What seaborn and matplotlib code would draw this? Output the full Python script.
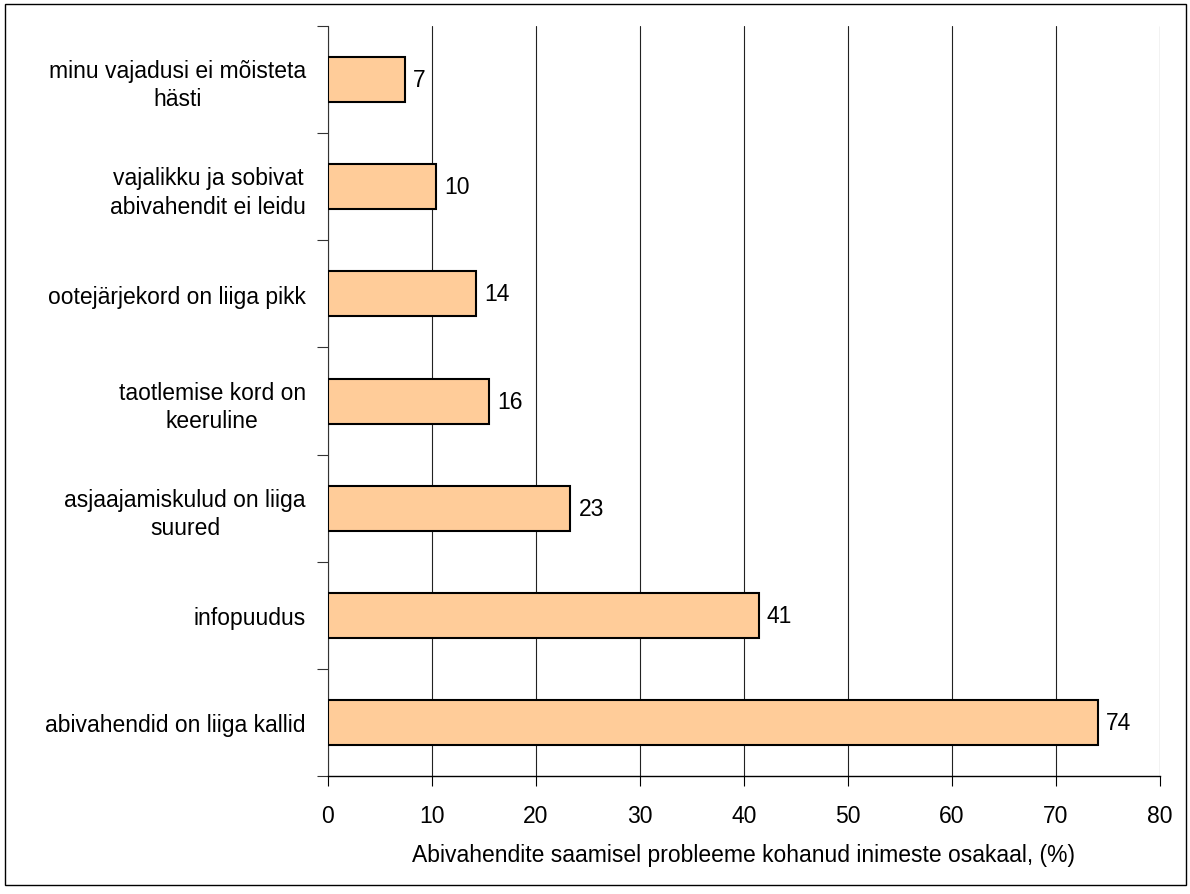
import matplotlib
matplotlib.use('Agg')
import matplotlib.pyplot as plt
import seaborn as sns
import pandas as pd
from matplotlib.patches import Rectangle

# Data
categories = [
    'minu vajadusi ei mõisteta\nhästi',
    'vajalikku ja sobivat\nabivahendit ei leidu',
    'ootejärjekord on liiga pikk',
    'taotlemise kord on\nkeeruline',
    'asjaajamiskulud on liiga\nsuured',
    'infopuudus',
    'abivahendid on liiga kallid',
]
values = [7.4, 10.4, 14.2, 15.5, 23.3, 41.4, 74.0]
labels = ['7', '10', '14', '16', '23', '41', '74']
x_ticks = [0, 10, 20, 30, 40, 50, 60, 70, 80]

df = pd.DataFrame({'Problem': categories, 'Share': values})

sns.set_style('white')
plt.rcParams['font.family'] = ['Liberation Sans', 'DejaVu Sans']
plt.rcParams['font.size'] = 16.5
plt.rcParams['text.color'] = 'black'
plt.rcParams['xtick.color'] = 'black'
plt.rcParams['ytick.color'] = 'black'
plt.rcParams['axes.labelcolor'] = 'black'

fig = plt.figure(figsize=(11.9, 8.95), dpi=100)
ax = fig.add_axes([328 / 1190, 1 - 777 / 895, 832 / 1190, 750 / 895])

sns.barplot(data=df, y='Problem', x='Share', orient='h', ax=ax,
            color='#FFCC99', edgecolor='black', linewidth=1.5,
            width=0.42, saturation=1, zorder=3)

ax.bar_label(ax.containers[0], labels=labels, padding=6, fontsize=16.5, color='black')

ax.set_xlim(0, 80)
ax.set_ylim(6.5, -0.5)
ax.set_xticks(x_ticks)
ax.set_xlabel('Abivahendite saamisel probleeme kohanud inimeste osakaal, (%)',
              fontsize=16.5, labelpad=12)
ax.set_ylabel('')

# vertical grid only
ax.grid(axis='x', color='#222222', linewidth=0.8, zorder=0)
ax.grid(axis='y', visible=False)

# y ticks at category boundaries
ax.set_yticks(range(len(categories)))
ax.set_yticklabels(categories)
ax.set_yticks([i - 0.5 for i in range(len(categories) + 1)], minor=True)
ax.tick_params(axis='y', which='major', left=False, length=0, pad=16)
ax.tick_params(axis='y', which='minor', left=True, length=8, width=0.8,
               color='#333333', direction='out')
ax.tick_params(axis='x', which='major', bottom=True, length=7, width=0.8,
               color='black', direction='out', pad=13)
for lab in ax.get_yticklabels():
    lab.set_multialignment('center')
    lab.set_linespacing(1.3)

for side in ['top', 'right']:
    ax.spines[side].set_visible(False)
ax.spines['left'].set_color('#333333')
ax.spines['left'].set_linewidth(0.8)
ax.spines['bottom'].set_color('black')
ax.spines['bottom'].set_linewidth(1.0)

# outer border
fig.patches.append(Rectangle((5 / 1190, 1 - 886 / 895), 1181 / 1190, 881 / 895,
                             transform=fig.transFigure, fill=False,
                             edgecolor='black', linewidth=1.0))

fig.savefig('out.png', dpi=100)
